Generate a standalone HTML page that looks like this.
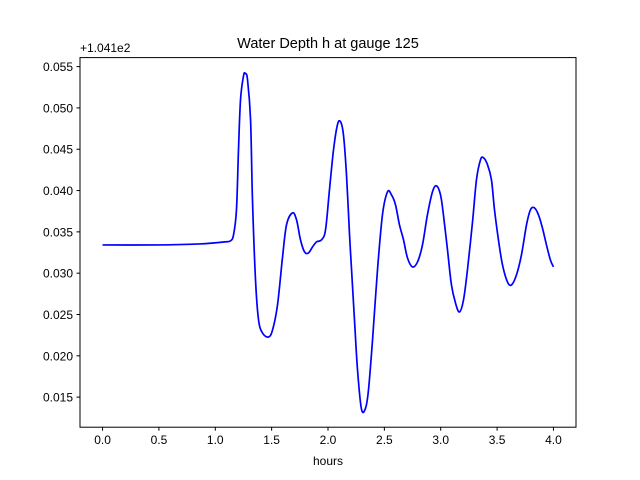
<!DOCTYPE html>
<html><head><meta charset="utf-8"><style>
body{margin:0;background:#fff;}
svg{display:block;font-family:"Liberation Sans","DejaVu Sans",sans-serif;}
</style></head><body>
<svg id="chart" width="640" height="480" viewBox="0 0 640 480" xmlns="http://www.w3.org/2000/svg">
<rect width="640" height="480" fill="#fff"/>
<text x="328" y="48" font-size="14.5" text-anchor="middle">Water Depth h at gauge 125</text>
<text x="80" y="52" font-size="12">+1.041e2</text>
<g id="xticks"></g>
<g id="yticks"></g>
<path id="line" fill="none" stroke="#0000ff" stroke-width="1.7" stroke-linejoin="round"/>
<rect x="80" y="57.6" width="496" height="369.6" fill="none" stroke="#000" stroke-width="1"/>
<text x="328" y="465" font-size="12" text-anchor="middle">hours</text>
</svg>
<script>
const hours=[0,0.506,0.860,0.993,1.082,1.135,1.162,1.188,1.206,1.224,1.251,1.268,1.286,1.313,1.330,1.357,1.384,1.419,1.472,1.508,1.552,1.596,1.632,1.685,1.721,1.756,1.792,1.827,1.863,1.898,1.942,1.978,2.013,2.049,2.084,2.111,2.137,2.164,2.191,2.208,2.235,2.262,2.297,2.333,2.359,2.395,2.439,2.483,2.528,2.563,2.599,2.634,2.670,2.705,2.749,2.794,2.838,2.882,2.927,2.962,2.998,3.024,3.060,3.095,3.131,3.166,3.202,3.237,3.282,3.317,3.353,3.379,3.415,3.450,3.477,3.512,3.548,3.592,3.628,3.672,3.716,3.761,3.796,3.831,3.867,3.902,3.938,3.973,4.0];
const depth=[0.03342,0.03342,0.03354,0.03367,0.03379,0.03391,0.03464,0.03767,0.04494,0.05100,0.05391,0.05415,0.05342,0.04857,0.03888,0.02918,0.02433,0.02276,0.02227,0.02312,0.02615,0.03185,0.03585,0.03730,0.03645,0.03403,0.03257,0.03245,0.03318,0.03379,0.03403,0.03524,0.04009,0.04494,0.04797,0.04833,0.04676,0.04191,0.03464,0.03064,0.02433,0.01827,0.01354,0.01366,0.01585,0.02191,0.03039,0.03706,0.03985,0.03948,0.03827,0.03585,0.03403,0.03185,0.03076,0.03136,0.03342,0.03706,0.03985,0.04057,0.03948,0.03706,0.03282,0.02858,0.02639,0.02530,0.02676,0.03039,0.03621,0.04130,0.04373,0.04397,0.04312,0.04130,0.03767,0.03403,0.03100,0.02894,0.02858,0.02979,0.03221,0.03585,0.03767,0.03791,0.03706,0.03548,0.03342,0.03160,0.03076];
const xTickVals=[0,0.5,1,1.5,2,2.5,3,3.5,4];
const xTickLabels=["0.0","0.5","1.0","1.5","2.0","2.5","3.0","3.5","4.0"];
const yTickVals=[0.015,0.02,0.025,0.03,0.035,0.04,0.045,0.05,0.055];
const yTickLabels=["0.015","0.020","0.025","0.030","0.035","0.040","0.045","0.050","0.055"];
const X0=80,X1=576,Y0=427.2,Y1=57.6;
const xmin=-0.2,xmax=4.2,ymin=0.01136,ymax=0.05609;
const sx=v=>X0+(v-xmin)/(xmax-xmin)*(X1-X0);
const sy=v=>Y0-(v-ymin)/(ymax-ymin)*(Y0-Y1);
const NS="http://www.w3.org/2000/svg";
const xg=document.getElementById('xticks'),yg=document.getElementById('yticks');
xTickVals.forEach((v,i)=>{
  const l=document.createElementNS(NS,'line');
  
  
  l.setAttribute('x1',sx(v));l.setAttribute('x2',sx(v));l.setAttribute('y1',Y0);l.setAttribute('y2',Y0+3.5);l.setAttribute('stroke','#000');
  xg.appendChild(l);
  const t=document.createElementNS(NS,'text');
  
  
  t.setAttribute('x',sx(v));t.setAttribute('y',Y0+17);t.setAttribute('font-size','12');t.setAttribute('text-anchor','middle');
  t.textContent=xTickLabels[i];xg.appendChild(t);
});
yTickVals.forEach((v,i)=>{
  const l=document.createElementNS(NS,'line');
  
  
  l.setAttribute('x1',X0-3.5);l.setAttribute('x2',X0);l.setAttribute('y1',sy(v));l.setAttribute('y2',sy(v));l.setAttribute('stroke','#000');
  yg.appendChild(l);
  const t=document.createElementNS(NS,'text');
  
  
  t.setAttribute('x',X0-7);t.setAttribute('y',sy(v)+4.5);t.setAttribute('font-size','12');t.setAttribute('text-anchor','end');
  t.textContent=yTickLabels[i];yg.appendChild(t);
});
const pts=hours.map((h,i)=>[sx(h),sy(depth[i])]);
let d='M'+pts[0][0]+','+pts[0][1];
for(let i=0;i<pts.length-1;i++){
  const p0=pts[Math.max(0,i-1)],p1=pts[i],p2=pts[i+1],p3=pts[Math.min(pts.length-1,i+2)];
  const c1=[p1[0]+(p2[0]-p0[0])/6,p1[1]+(p2[1]-p0[1])/6];
  const c2=[p2[0]-(p3[0]-p1[0])/6,p2[1]-(p3[1]-p1[1])/6];
  d+=' C'+c1[0]+','+c1[1]+' '+c2[0]+','+c2[1]+' '+p2[0]+','+p2[1];
}
document.getElementById('line').setAttribute('d',d);
</script>
</body></html>
